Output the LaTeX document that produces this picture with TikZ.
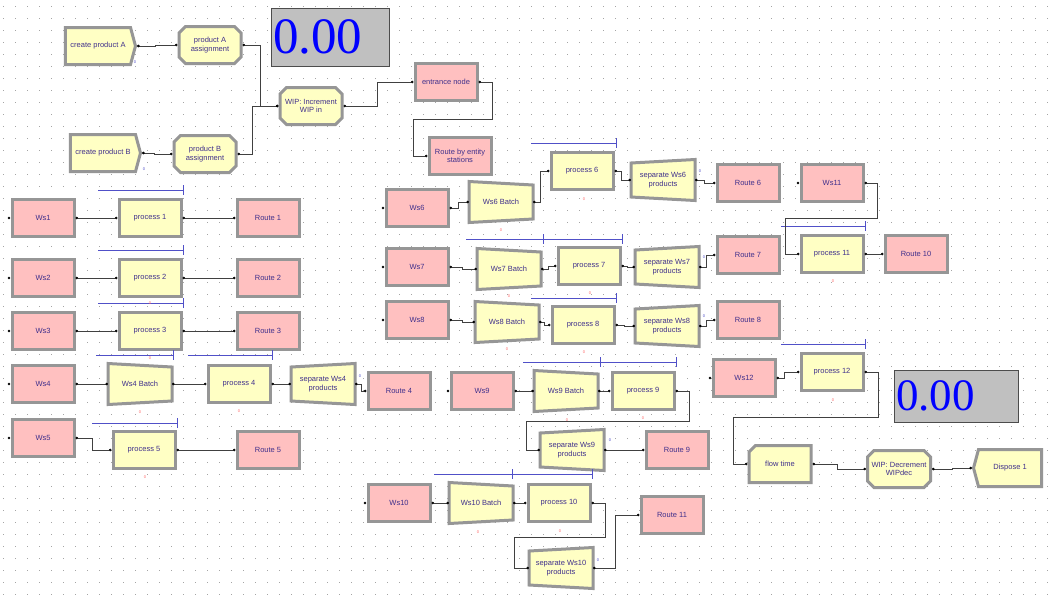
\documentclass[tikz,border=0pt]{standalone}
\usepackage{fontspec}
\setmainfont{Liberation Sans}
\newfontfamily\dispfont{Liberation Serif}
\usetikzlibrary{arrows.meta,calc,shapes.misc,shapes.symbols}

\definecolor{wsfill}{RGB}{255,192,192}
\definecolor{procfill}{RGB}{255,255,196}
\definecolor{modframe}{RGB}{150,150,150}
\definecolor{modtext}{RGB}{64,48,140}
\definecolor{queueblue}{RGB}{80,80,200}
\definecolor{dispgray}{RGB}{192,192,192}
\definecolor{griddots}{RGB}{165,165,165}

\pgfdeclarelayer{grid}
\pgfdeclarelayer{background}
\pgfsetlayers{grid,background,main}

\tikzset{
  module/.style={draw=modframe, line width=3pt, outer sep=1.5pt, inner sep=1pt,
    minimum width=62pt, minimum height=37pt, align=center, text=modtext,
    font=\fontsize{7.5}{8.5}\selectfont},
  station/.style={module, fill=wsfill},
  route/.style={module, fill=wsfill},
  process/.style={module, fill=procfill},
  assign/.style={module, fill=procfill, chamfered rectangle, chamfered rectangle xsep=3pt},
  record/.style={assign, chamfered rectangle corners=north west},
  create/.style={module, fill=procfill, signal, signal to=east, signal pointer angle=150,
    minimum width=70pt},
  dispose/.style={module, fill=procfill, signal, signal to=west, signal pointer angle=150,
    minimum width=68pt},
  batch/.style={module, draw=none, fill=none, outer sep=0pt, minimum width=64pt, minimum height=41pt},
  trapframe/.style={draw=modframe, line width=3pt, fill=procfill},
  display/.style={draw=gray!60!black, line width=0.8pt, fill=dispgray, text=blue,
    inner xsep=2pt, inner ysep=0pt, align=left},
  conn/.style={draw=black!75, line width=0.6pt,
    {Circle[length=2.6pt,color=black]}-{Circle[length=2.6pt,color=black]}},
  queue/.style={draw=queueblue, line width=0.7pt},
  counter/.style={font=\fontsize{4}{4}\selectfont, text=red!60, inner sep=0pt},
  outcount/.style={counter, text=queueblue},
}

\begin{document}
\begin{tikzpicture}[x=1pt, y=-1pt]
    \useasboundingbox (0,0) rectangle (1048,598);

    % dotted canvas grid
    \begin{pgfonlayer}{grid}
      \fill[white] (0,0) rectangle (1048,598);
      \foreach \gy in {6,18,...,598}
        \draw[griddots, line width=0.9pt, dash pattern=on 0.9pt off 11.1pt] (3,\gy) -- (1048,\gy);
    \end{pgfonlayer}

    % arrivals and entry logic
    \node[create] (crA) at (98,46) {create product A};
    \node[assign] (asA) at (210,45) {product A\\assignment};
    \node[create] (crB) at (103,153) {create product B};
    \node[assign] (asB) at (205,154) {product B\\assignment};
    \node[assign] (wipin) at (311,106) {WIP: Increment\\WIP in};
    \node[route] (entr) at (446,82) {entrance node};
    \node[route] (rent) at (460,156) {Route by entity\\stations};

    % stations 1 to 5
    \foreach \i/\y in {1/218,2/278,3/331}{
      \node[station] (ws\i) at (43,\y) {Ws\i};
      \node[process] (p\i) at (150,\y) {process \i};
      \node[route] (r\i) at (268,\y) {Route \i};
    }
    \node[station] (ws4) at (43,384) {Ws4};
    \node[batch] (b4) at (140,384) {Ws4 Batch};
    \node[process] (p4) at (239,384) {process 4};
    \node[batch] (s4) at (323,384) {separate Ws4\\products};
    \node[route] (r4) at (399,391) {Route 4};
    \node[station] (ws5) at (43,438) {Ws5};
    \node[process] (p5) at (144,450) {process 5};
    \node[route] (r5) at (268,450) {Route 5};

    % stations 6 to 10
    \node[station] (ws6) at (417,208) {Ws6};
    \node[batch] (b6) at (501,202) {Ws6 Batch};
    \node[process] (p6) at (582,171) {process 6};
    \node[batch] (s6) at (663,180) {separate Ws6\\products};
    \node[route] (r6) at (748,183) {Route 6};

    \node[station] (ws7) at (417,267) {Ws7};
    \node[batch] (b7) at (509,269) {Ws7 Batch};
    \node[process] (p7) at (589,266) {process 7};
    \node[batch] (s7) at (667,267) {separate Ws7\\products};
    \node[route] (r7) at (748,255) {Route 7};

    \node[station] (ws8) at (417,320) {Ws8};
    \node[batch] (b8) at (507,322) {Ws8 Batch};
    \node[process] (p8) at (583,325) {process 8};
    \node[batch] (s8) at (667,326) {separate Ws8\\products};
    \node[route] (r8) at (748,320) {Route 8};

    \node[station] (ws9) at (482,391) {Ws9};
    \node[batch] (b9) at (566,391) {Ws9 Batch};
    \node[process] (p9) at (643,391) {process 9};
    \node[batch] (s9) at (572,450) {separate Ws9\\products};
    \node[route] (r9) at (677,450) {Route 9};

    \node[station] (ws10) at (399,503) {Ws10};
    \node[batch] (b10) at (481,503) {Ws10 Batch};
    \node[process] (p10) at (559,503) {process 10};
    \node[batch] (s10) at (561,568) {separate Ws10\\products};
    \node[route] (r11) at (672,515) {Route 11};

    % stations 11, 12 and exit
    \node[station] (ws11) at (832,183) {Ws11};
    \node[process] (p11) at (832,254) {process 11};
    \node[route] (r10) at (916,254) {Route 10};
    \node[station] (ws12) at (744,378) {Ws12};
    \node[process] (p12) at (832,372) {process 12};
    \node[record] (flow) at (780,464) {flow time};
    \node[assign] (wipdec) at (899,469) {WIP: Decrement\\WIPdec};
    \node[dispose] (disp) at (1010,468) {Dispose 1};

    % WIP displays
    \node[display, minimum width=118pt, minimum height=58pt, text width=114pt,
      font=\dispfont\fontsize{51}{51}\selectfont] (wipshow) at (330,37) {0.00};
    \node[display, minimum width=124pt, minimum height=52pt, text width=120pt,
      font=\dispfont\fontsize{45}{45}\selectfont] (flowshow) at (956,396) {0.00};

    % batch and separate outlines
    \begin{pgfonlayer}{background}
      \foreach \n in {b4,b6,b7,b8,b9,b10}
        \filldraw[trapframe] (\n.north west) -- ($(\n.north east)+(0,3.5)$)
          -- ($(\n.south east)+(0,-3.5)$) -- (\n.south west) -- cycle;
      \foreach \n in {s4,s6,s7,s8,s9,s10}
        \filldraw[trapframe] ($(\n.north west)+(0,3.5)$) -- (\n.north east)
          -- (\n.south east) -- ($(\n.south west)+(0,-3.5)$) -- cycle;
    \end{pgfonlayer}

    % station entry points
    \foreach \w in {ws1,ws2,ws3,ws4,ws5,ws6,ws7,ws8,ws9,ws10,ws11,ws12}
      \fill ($(\w.west)+(-1.5,0)$) circle (1.3pt);

    % queues
    \foreach \qa/\qb/\qy in {98/183/190,98/183/250,98/183/303,96/173/355,188/272/355,
        92/177/423,531/616/143,466/543/239,543/622/239,531/616/298,523/600/362,600/676/362,
        434/512/474,512/592/474,781/865/226,781/865/344}
      \draw[queue] (\qa,\qy) -- (\qb,\qy) ++(0,-5) -- ++(0,10);

    % connectors
    \draw[conn] (crA.east) -- ++(18,0) |- (asA.west);
    \draw[conn] (asA.east) -- ++(18,0) |- (wipin.west);
    \draw[conn] (crB.east) -- ++(12,0) |- (asB.west);
    \draw[conn] (asB.east) -- ++(15,0) |- (wipin.west);
    \draw[conn] (wipin.east) -- ++(34,0) |- (entr.west);
    \draw[conn] (entr.east) -- ++(14,0) -- ++(0,37) -| ([xshift=-14pt]rent.west) -- (rent.west);

    \foreach \i in {1,2,3}{
      \draw[conn] (ws\i.east) -- (p\i.west);
      \draw[conn] (p\i.east) -- (r\i.west);
    }
    \draw[conn] (ws4.east) -- (b4.west);
    \draw[conn] (b4.east) -- (p4.west);
    \draw[conn] (p4.east) -- (s4.west);
    \draw[conn] (s4.east) -- ++(6,0) |- (r4.west);
    \draw[conn] (ws5.east) -- ++(17,0) |- (p5.west);
    \draw[conn] (p5.east) -- (r5.west);

    \draw[conn] (ws6.east) -- ++(9,0) |- (b6.west);
    \draw[conn] (b6.east) -- ++(7,0) |- (p6.west);
    \draw[conn] (p6.east) -- ++(7,0) |- (s6.west);
    \draw[conn] (s6.east) -- ++(9,0) |- (r6.west);

    \draw[conn] (ws7.east) -- ++(13,0) |- (b7.west);
    \draw[conn] (b7.east) -- ++(7,0) |- (p7.west);
    \draw[conn] (p7.east) -- ++(6,0) |- (s7.west);
    \draw[conn] (s7.east) -- ++(7,0) |- (r7.west);

    \draw[conn] (ws8.east) -- ++(13,0) |- (b8.west);
    \draw[conn] (b8.east) -- ++(5,0) |- (p8.west);
    \draw[conn] (p8.east) -- ++(9,0) |- (s8.west);
    \draw[conn] (s8.east) -- ++(7,0) |- (r8.west);

    \draw[conn] (ws9.east) -- (b9.west);
    \draw[conn] (b9.east) -- (p9.west);
    \draw[conn] (p9.east) -- ++(14,0) -- ++(0,30) -| ([xshift=-14pt]s9.west) -- (s9.west);
    \draw[conn] (s9.east) -- (r9.west);

    \draw[conn] (ws10.east) -- (b10.west);
    \draw[conn] (b10.east) -- (p10.west);
    \draw[conn] (p10.east) -- ++(14,0) -- ++(0,34) -| ([xshift=-15pt]s10.west) -- (s10.west);
    \draw[conn] (s10.east) -- ++(22,0) |- (r11.west);

    \draw[conn] (ws11.east) -- ++(13,0) -- ++(0,35) -| ([xshift=-14pt]p11.west) -- (p11.west);
    \draw[conn] (p11.east) -- (r10.west);
    \draw[conn] (ws12.east) -- ++(8,0) |- (p12.west);
    \draw[conn] (p12.east) -- ++(14,0) -- ++(0,45) -| ([xshift=-14pt]flow.west) -- (flow.west);
    \draw[conn] (flow.east) -- ++(25,0) |- (wipdec.west);
    \draw[conn] (wipdec.east) -- ++(20,0) |- (disp.west);

    % module counters
    \foreach \cx/\cy [count=\k] in {150/303,150/358,140/412,239/411,145/477,501/230,584/199,
        509/296,590/293,507/349,584/352,833/281,567/420,643/418,478/532,560/531,833/400}
      \node[counter] (cnt\k) at (\cx,\cy) {0};
    \foreach \cx/\cy [count=\k] in {135/62,144/169,360/376,700/171,704/257,704/316,610/440,598/560}
      \node[outcount] (oc\k) at (\cx,\cy) {0};
\end{tikzpicture}
\end{document}
